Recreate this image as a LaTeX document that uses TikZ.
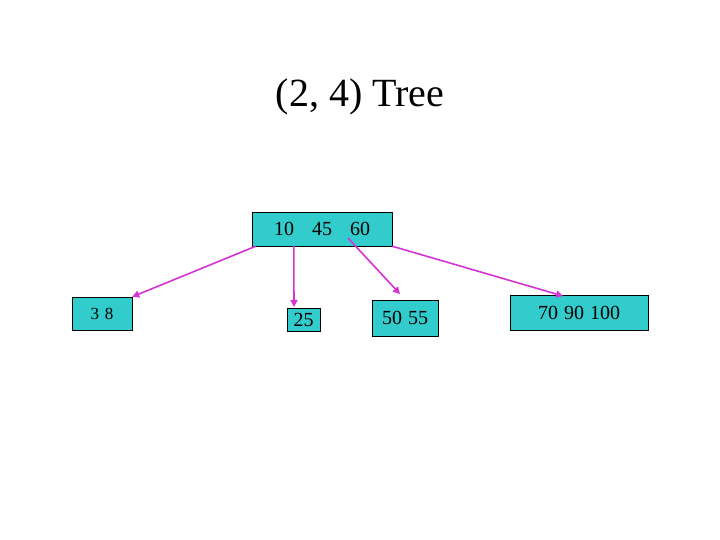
\documentclass[tikz,border=0pt]{standalone}
\usepackage{fontspec}
\setmainfont{Liberation Serif}
\usetikzlibrary{arrows.meta}
\definecolor{boxfill}{RGB}{51,204,204}
\definecolor{arr}{RGB}{214,51,214}
\begin{document}
\begin{tikzpicture}[x=1pt,y=-1pt,
  keybox/.style={draw=black,fill=boxfill,inner sep=0pt,font=\fontsize{20}{22}\selectfont},
  link/.style={draw=arr,line width=1.6pt,-{Triangle[length=7pt,width=7pt]}}]
\useasboundingbox[fill=white] (0,0) rectangle (720,540);
\node[font=\fontsize{40}{44}\selectfont] (title) at (360,97) {(2, 4) Tree};
\node[keybox,minimum width=140pt,minimum height=34pt] (root) at (322,229) {10\hspace{18pt}45\hspace{18pt}60};
\node[keybox,minimum width=60pt,minimum height=33pt] (a) at (102,313.5) {\fontsize{17}{20}\selectfont 3\hspace{6pt}8};
\node[keybox,minimum width=33pt,minimum height=23pt] (b) at (303.5,319.5) {25};
\node[keybox,minimum width=66pt,minimum height=36pt] (c) at (405,318) {50\hspace{6pt}55};
\node[keybox,minimum width=138pt,minimum height=35pt] (d) at (579,312.5) {70\hspace{6pt}90\hspace{6pt}100};
\coordinate (c1) at (348,238);
\coordinate (c2) at (400,294);
\draw[link] (root.south west) ++(4,0) -- (a.north east);
\draw[link] (root.south west) ++(42,0) -- (294,307);
\draw[link] (c1) -- (c2);
\draw[link] (root.south east) -- (563,296);
\end{tikzpicture}
\end{document}
